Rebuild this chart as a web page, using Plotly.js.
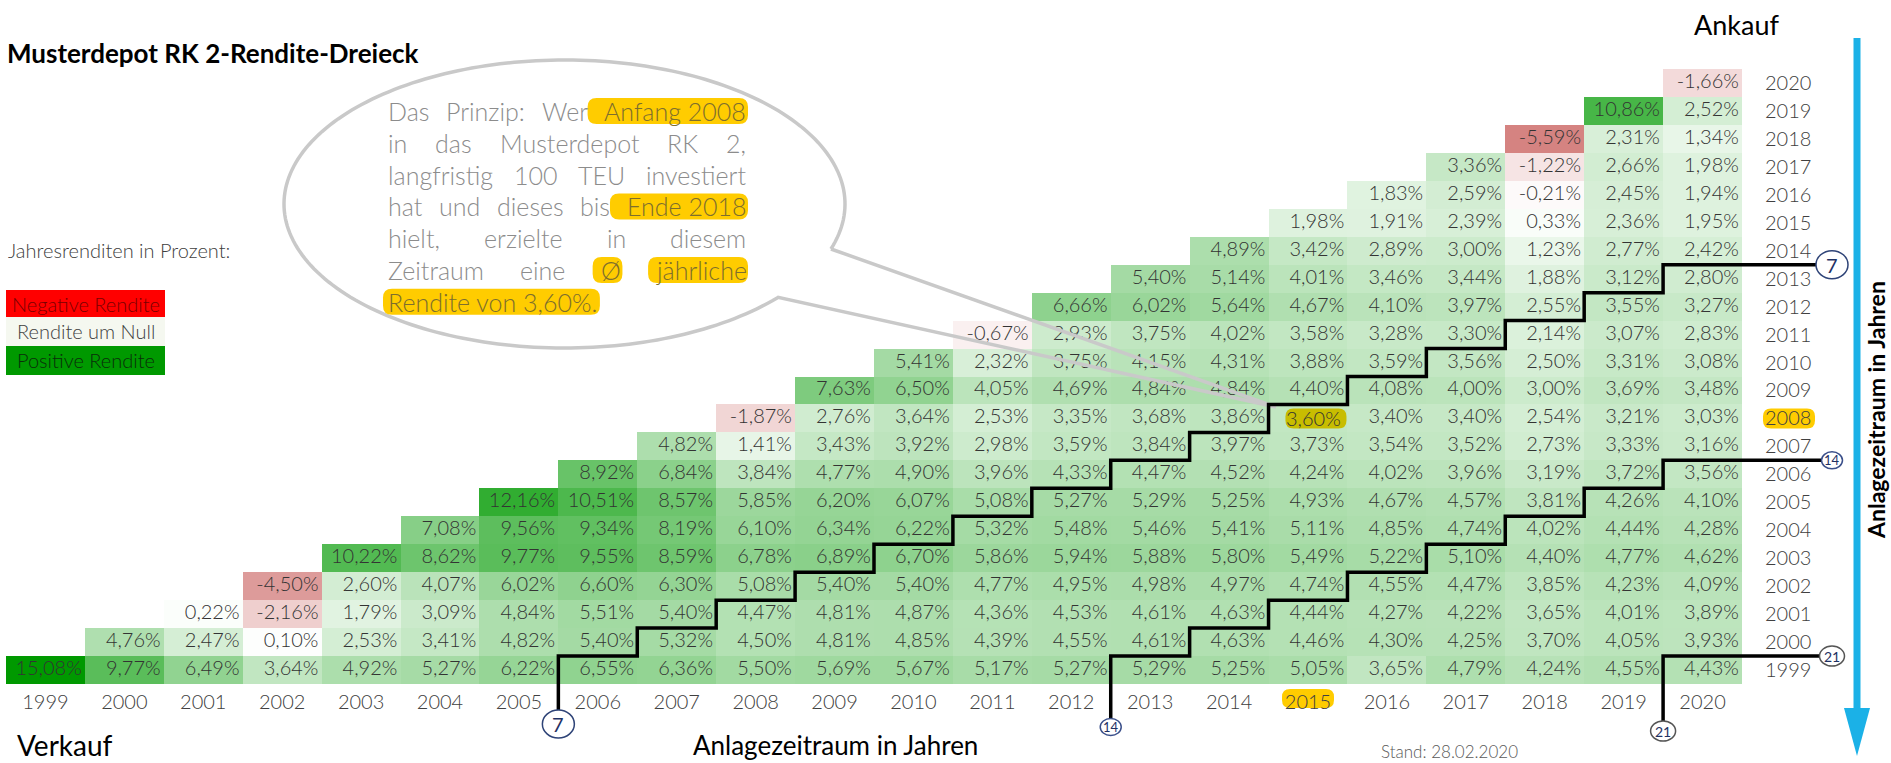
<!DOCTYPE html>
<html><head><meta charset="utf-8">
<script src="https://cdn.plot.ly/plotly-3.0.1.min.js"></script>
<style>html,body{margin:0;padding:0;background:#fff;overflow:hidden}</style>
</head><body>
<div id="chart" style="width:1891px;height:763px"></div>
<script>
// ---------------- DATA ----------------
const years = [1999,2000,2001,2002,2003,2004,2005,2006,2007,2008,2009,2010,2011,2012,2013,2014,2015,2016,2017,2018,2019,2020];
// Ø jährliche Rendite je Ankaufsjahr (Anfang) für Verkaufsjahre (Ende) ab Ankaufsjahr bis 2020
const buy1999 = [15.08, 9.77, 6.49, 3.64, 4.92, 5.27, 6.22, 6.55, 6.36, 5.50, 5.69, 5.67, 5.17, 5.27, 5.29, 5.25, 5.05, 3.65, 4.79, 4.24, 4.55, 4.43];
const buy2000 = [4.76, 2.47, 0.10, 2.53, 3.41, 4.82, 5.40, 5.32, 4.50, 4.81, 4.85, 4.39, 4.55, 4.61, 4.63, 4.46, 4.30, 4.25, 3.70, 4.05, 3.93];
const buy2001 = [0.22, -2.16, 1.79, 3.09, 4.84, 5.51, 5.40, 4.47, 4.81, 4.87, 4.36, 4.53, 4.61, 4.63, 4.44, 4.27, 4.22, 3.65, 4.01, 3.89];
const buy2002 = [-4.50, 2.60, 4.07, 6.02, 6.60, 6.30, 5.08, 5.40, 5.40, 4.77, 4.95, 4.98, 4.97, 4.74, 4.55, 4.47, 3.85, 4.23, 4.09];
const buy2003 = [10.22, 8.62, 9.77, 9.55, 8.59, 6.78, 6.89, 6.70, 5.86, 5.94, 5.88, 5.80, 5.49, 5.22, 5.10, 4.40, 4.77, 4.62];
const buy2004 = [7.08, 9.56, 9.34, 8.19, 6.10, 6.34, 6.22, 5.32, 5.48, 5.46, 5.41, 5.11, 4.85, 4.74, 4.02, 4.44, 4.28];
const buy2005 = [12.16, 10.51, 8.57, 5.85, 6.20, 6.07, 5.08, 5.27, 5.29, 5.25, 4.93, 4.67, 4.57, 3.81, 4.26, 4.10];
const buy2006 = [8.92, 6.84, 3.84, 4.77, 4.90, 3.96, 4.33, 4.47, 4.52, 4.24, 4.02, 3.96, 3.19, 3.72, 3.56];
const buy2007 = [4.82, 1.41, 3.43, 3.92, 2.98, 3.59, 3.84, 3.97, 3.73, 3.54, 3.52, 2.73, 3.33, 3.16];
const buy2008 = [-1.87, 2.76, 3.64, 2.53, 3.35, 3.68, 3.86, 3.60, 3.40, 3.40, 2.54, 3.21, 3.03];
const buy2009 = [7.63, 6.50, 4.05, 4.69, 4.84, 4.84, 4.40, 4.08, 4.00, 3.00, 3.69, 3.48];
const buy2010 = [5.41, 2.32, 3.75, 4.15, 4.31, 3.88, 3.59, 3.56, 2.50, 3.31, 3.08];
const buy2011 = [-0.67, 2.93, 3.75, 4.02, 3.58, 3.28, 3.30, 2.14, 3.07, 2.83];
const buy2012 = [6.66, 6.02, 5.64, 4.67, 4.10, 3.97, 2.55, 3.55, 3.27];
const buy2013 = [5.40, 5.14, 4.01, 3.46, 3.44, 1.88, 3.12, 2.80];
const buy2014 = [4.89, 3.42, 2.89, 3.00, 1.23, 2.77, 2.42];
const buy2015 = [1.98, 1.91, 2.39, 0.33, 2.36, 1.95];
const buy2016 = [1.83, 2.59, -0.21, 2.45, 1.94];
const buy2017 = [3.36, -1.22, 2.66, 1.98];
const buy2018 = [-5.59, 2.31, 1.34];
const buy2019 = [10.86, 2.52];
const buy2020 = [-1.66];
const buyRows = [buy1999, buy2000, buy2001, buy2002, buy2003, buy2004, buy2005, buy2006, buy2007, buy2008, buy2009,
                 buy2010, buy2011, buy2012, buy2013, buy2014, buy2015, buy2016, buy2017, buy2018, buy2019, buy2020];
const holdingPeriods = [7, 14, 21];
const highlightBuy = 2008, highlightSell = 2015;

// ---------------- LAYOUT CONSTANTS ----------------
const W = 1891, H = 763;
const G = {l: 6, r: 1742, t: 69, b: 684};
const nC = years.length;
const cw = (G.r - G.l) / nC, rh = (G.b - G.t) / nC;
const PX = p => p / W, PY = p => 1 - p / H;
const colLeft = y => G.l + (y - years[0]) * cw;
const colRight = y => colLeft(y) + cw;
const rowTop = y => G.t + (years[nC - 1] - y) * rh;
const rowMid = y => rowTop(y) + rh / 2;
const FONT = 'Lato, "Open Sans", sans-serif';
const fmt = v => v.toFixed(2).replace('.', ',') + '%';
const TEXT_INSET = 0.46; // right-aligned cell text, as fraction of a column from the cell centre

// ---------------- MATRIX ----------------
const z = years.map((b, i) => years.map((s, j) => j >= i ? buyRows[i][j - i] : null));
const all = buyRows.flat();
const zmin = Math.min(...all), zmax = Math.max(...all);
const zeroPos = -zmin / (zmax - zmin);

const tx = [], ty = [], tt = [];
years.forEach((b, i) => buyRows[i].forEach((v, k) => {
  const s = years[i + k];
  if (b === highlightBuy && s === highlightSell) return;
  tx.push(s + TEXT_INSET); ty.push(b); tt.push(fmt(v));
}));

const traces = [
  {type: 'heatmap', x: years, y: years, z: z, zmin: zmin, zmax: zmax, showscale: false, hoverinfo: 'skip',
   colorscale: [[0, 'rgb(213,131,129)'], [zeroPos, 'rgb(255,255,255)'], [1, 'rgb(0,153,0)']]},
  {type: 'scatter', mode: 'text', x: tx, y: ty, text: tt, textposition: 'middle left', hoverinfo: 'skip',
   cliponaxis: false, showlegend: false,
   textfont: {family: FONT, size: 20, color: '#333333', weight: 300}}
];

// ---------------- DECORATION ----------------
const shapes = [], annotations = [];
const P = (x, y) => PX(x).toFixed(6) + ',' + PY(y).toFixed(6);
function rr(x0, y0, x1, y1, r) {
  return `M${P(x0 + r, y0)} L${P(x1 - r, y0)} Q${P(x1, y0)} ${P(x1, y0 + r)} L${P(x1, y1 - r)} Q${P(x1, y1)} ${P(x1 - r, y1)} ` +
         `L${P(x0 + r, y1)} Q${P(x0, y1)} ${P(x0, y1 - r)} L${P(x0, y0 + r)} Q${P(x0, y0)} ${P(x0 + r, y0)} Z`;
}
function poly(pts) { return 'M' + pts.map(p => P(p[0], p[1])).join(' L'); }
function rect(x0, y0, x1, y1, fill, layer) {
  shapes.push({type: 'rect', xref: 'paper', yref: 'paper', x0: PX(x0), x1: PX(x1), y0: PY(y1), y1: PY(y0),
               fillcolor: fill, line: {width: 0}, layer: layer || 'above'});
}
function ann(text, x, y, o) {
  return Object.assign({text: text, x: PX(x), y: PY(y), xref: 'paper', yref: 'paper', showarrow: false,
    xanchor: 'left', yanchor: 'middle', borderpad: 0,
    font: {family: FONT, size: 20, color: '#404040', weight: 300}}, o || {});
}
const YELLOW = '#FFCC00';

// legend
annotations.push(ann('Jahresrenditen in Prozent:', 7, 250, {font: {family: FONT, size: 20, color: '#404040', weight: 300}}));
const legendItems = [['Negative Rendite', '#FF0000', '#7A0000', 290, 317],
                     ['Rendite um Null', '#F5F8F0', '#404040', 317, 346],
                     ['Positive Rendite', '#009900', '#0A2E0A', 346, 375]];
legendItems.forEach(([t, f, c, y0, y1]) => {
  rect(6, y0, 165, y1, f);
  annotations.push(ann(t, 85.5, (y0 + y1) / 2, {xanchor: 'center', font: {family: FONT, size: 20, color: c, weight: 300}}));
});

// speech bubble (ellipse + tail)
const E = {cx: 564.5, cy: 204, rx: 280.5, ry: 144, a0: 18.2, a1: 40.4 - 360, tip: [1276, 407]};
const ep = [];
for (let a = E.a0; a > E.a1; a -= 1.5) ep.push([E.cx + E.rx * Math.cos(a * Math.PI / 180), E.cy + E.ry * Math.sin(a * Math.PI / 180)]);
ep.push([E.cx + E.rx * Math.cos(E.a1 * Math.PI / 180), E.cy + E.ry * Math.sin(E.a1 * Math.PI / 180)]);
ep.push(E.tip);
ep.push(ep[0]);
shapes.push({type: 'path', xref: 'paper', yref: 'paper', path: poly(ep), line: {color: '#C9C9C9', width: 3.5},
             fillcolor: 'rgba(0,0,0,0)', layer: 'above'});

// bubble text, justified (flag 1 = highlighted, 2 = highlighted incl. leading space)
const bubbleLines = [
  [['Das', 0], ['Prinzip:', 0], ['Wer', 0], ['Anfang 2008', 2]],
  [['in', 0], ['das', 0], ['Musterdepot', 0], ['RK', 0], ['2,', 0]],
  [['langfristig', 0], ['100', 0], ['TEU', 0], ['investiert', 0]],
  [['hat', 0], ['und', 0], ['dieses', 0], ['bis', 0], ['Ende 2018', 2]],
  [['hielt,', 0], ['erzielte', 0], ['in', 0], ['diesem', 0]],
  [['Zeitraum', 0], ['eine', 0], ['Ø', 1], ['jährliche', 1]],
  [['Rendite von 3,60%.', 1]]
];
const BX0 = 387, BX1 = 745, BY0 = 111, BDY = 31.8;
const ctx = document.createElement('canvas').getContext('2d');
let bfs = 25;
const meas = (s, fs) => { ctx.font = `300 ${fs}px Lato`; return ctx.measureText(s).width; };
let maxNat = 0;
bubbleLines.slice(0, -1).forEach(l => {
  const w = l.reduce((a, t) => a + meas(t[0], bfs), 0) + (l.length - 1) * meas(' ', bfs);
  maxNat = Math.max(maxNat, w);
});
if (maxNat > BX1 - BX0) bfs = bfs * (BX1 - BX0) / maxNat;
bubbleLines.forEach((line, li) => {
  const yc = BY0 + li * BDY;
  const ws = line.map(t => meas(t[0], bfs));
  const sum = ws.reduce((a, b) => a + b, 0);
  const last = li === bubbleLines.length - 1;
  const gap = last || line.length < 2 ? meas(' ', bfs) : (BX1 - BX0 - sum) / (line.length - 1);
  let x = BX0;
  line.forEach((t, k) => {
    if (t[1]) {
      const left = t[1] === 2 ? x - gap + 1 : x - (last ? 4 : 7);
      shapes.push({type: 'path', xref: 'paper', yref: 'paper', path: rr(left, yc - 13, x + ws[k] + 3, yc + 13, 9),
                   fillcolor: YELLOW, line: {width: 0}, layer: 'above'});
    }
    annotations.push(ann(t[0], x, yc, {font: {family: FONT, size: bfs, color: t[1] ? '#7D6E2E' : '#8C8C8C', weight: 300}}));
    x += ws[k] + gap;
  });
});

// highlighted cell and tick labels
shapes.push({type: 'path', xref: 'paper', yref: 'paper', layer: 'above', fillcolor: '#C8BD00', line: {width: 0},
             path: rr(colRight(highlightSell) - 62, rowMid(highlightBuy) - 10, colRight(highlightSell) - 1, rowMid(highlightBuy) + 10, 8)});
annotations.push({text: fmt(buyRows[years.indexOf(highlightBuy)][years.indexOf(highlightSell) - years.indexOf(highlightBuy)]),
  x: highlightSell + TEXT_INSET, y: highlightBuy, xref: 'x', yref: 'y', xanchor: 'right', yanchor: 'middle', xshift: -2,
  showarrow: false, borderpad: 0, font: {family: FONT, size: 20, color: '#333333', weight: 300}});
const cx15 = (colLeft(highlightSell) + colRight(highlightSell)) / 2;
shapes.push({type: 'path', xref: 'paper', yref: 'paper', layer: 'below', fillcolor: YELLOW, line: {width: 0},
             path: rr(cx15 - 26, 689, cx15 + 26, 708, 8)});
shapes.push({type: 'path', xref: 'paper', yref: 'paper', layer: 'below', fillcolor: YELLOW, line: {width: 0},
             path: rr(1763, rowMid(highlightBuy) - 10, 1815, rowMid(highlightBuy) + 10, 8)});

// holding-period staircase lines with circles
const circ = {7: {rx: 16, ry: 14, fs: 20, lc: '#2E4377', by: 724},
              14: {rx: 10.5, ry: 8.5, fs: 13, lc: '#3A4F8A', by: 727},
              21: {rx: 12.5, ry: 10, fs: 14, lc: '#555555', by: 731}};
const RCX = 1832;
holdingPeriods.forEach(n => {
  const st = circ[n];
  const xs = colRight(years[0] + n - 1);
  const pts = [[xs, st.by - st.ry], [xs, rowTop(years[0])]];
  for (let c = years[0] + n; c <= years[nC - 1]; c++) {
    pts.push([colRight(c), rowTop(c - n)]);
    if (c < years[nC - 1]) pts.push([colRight(c), rowTop(c + 1 - n)]);
  }
  const ye = rowTop(years[nC - 1] - n);
  pts.push([RCX - st.rx, ye]);
  shapes.push({type: 'path', xref: 'paper', yref: 'paper', path: poly(pts), line: {color: '#000000', width: 3.5},
               fillcolor: 'rgba(0,0,0,0)', layer: 'above'});
  [[xs, st.by], [RCX, ye]].forEach(([cx, cy]) => {
    shapes.push({type: 'circle', xref: 'paper', yref: 'paper', x0: PX(cx - st.rx), x1: PX(cx + st.rx),
                 y0: PY(cy + st.ry), y1: PY(cy - st.ry), fillcolor: '#FFFFFF', line: {color: st.lc, width: 1.5}, layer: 'above'});
    annotations.push(ann(String(n), cx, cy, {xanchor: 'center', font: {family: FONT, size: st.fs, color: '#1F3264', weight: 400}}));
  });
});

// blue arrow on the right
shapes.push({type: 'line', xref: 'paper', yref: 'paper', x0: PX(1857), x1: PX(1857), y0: PY(38), y1: PY(712),
             line: {color: '#1BB1E7', width: 7}, layer: 'above'});
shapes.push({type: 'path', xref: 'paper', yref: 'paper', path: poly([[1844, 708], [1870, 708], [1857, 756]]) + ' Z',
             fillcolor: '#1BB1E7', line: {width: 0}, layer: 'above'});

// texts
annotations.push(ann('Ankauf', 1736, 24, {xanchor: 'center', font: {family: FONT, size: 27, color: '#000000', weight: 400}}));
annotations.push(ann('Verkauf', 16, 745, {font: {family: FONT, size: 28, color: '#000000', weight: 400}}));
annotations.push(ann('Anlagezeitraum in Jahren', 835, 745, {xanchor: 'center', font: {family: FONT, size: 26, color: '#000000', weight: 400}}));
annotations.push(ann('Stand: 28.02.2020', 1380, 751, {font: {family: FONT, size: 17, color: '#595959', weight: 300}}));
annotations.push(ann('Anlagezeitraum in Jahren', 1876, 410, {xanchor: 'center', textangle: -90,
                     font: {family: FONT, size: 23, color: '#000000', weight: 700}}));

const axisCommon = {range: [years[0] - 0.5, years[nC - 1] + 0.5], tickvals: years, ticktext: years.map(String),
  showgrid: false, zeroline: false, showline: false, ticks: '', fixedrange: true,
  tickfont: {family: FONT, size: 20, color: '#404040', weight: 300}};

const layout = {
  width: W, height: H, margin: {l: 0, r: 0, t: 0, b: 0, pad: 0},
  paper_bgcolor: '#FFFFFF', plot_bgcolor: 'rgba(0,0,0,0)', showlegend: false,
  title: {text: 'Musterdepot RK 2-Rendite-Dreieck', x: PX(7), xanchor: 'left', xref: 'container', y: PY(54), yanchor: 'middle',
          font: {family: FONT, size: 26, color: '#000000', weight: 700}},
  xaxis: Object.assign({}, axisCommon, {domain: [G.l / W, G.r / W], anchor: 'y', side: 'bottom', automargin: false, ticklabelstandoff: 4}),
  yaxis: Object.assign({}, axisCommon, {domain: [1 - G.b / H, 1 - G.t / H], anchor: 'x', side: 'right', automargin: false, ticklabelstandoff: 22}),
  shapes: shapes, annotations: annotations
};

Plotly.newPlot('chart', traces, layout, {staticPlot: true, displayModeBar: false});
</script>
</body></html>
